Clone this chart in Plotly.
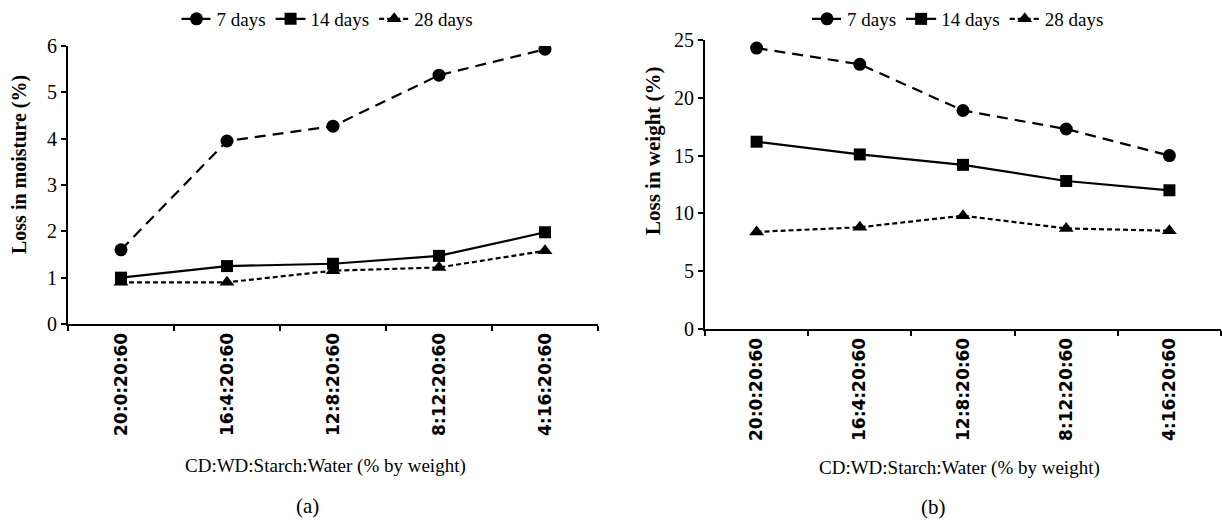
import plotly.graph_objects as go

categories = ["20:0:20:60", "16:4:20:60", "12:8:20:60", "8:12:20:60", "4:16:20:60"]
series_names = ["7 days", "14 days", "28 days"]

moisture_7 = [1.60, 3.95, 4.27, 5.37, 5.93]
moisture_14 = [1.00, 1.25, 1.30, 1.47, 1.98]
moisture_28 = [0.90, 0.90, 1.15, 1.22, 1.58]

weight_7 = [24.3, 22.9, 18.9, 17.3, 15.0]
weight_14 = [16.2, 15.1, 14.2, 12.8, 12.0]
weight_28 = [8.4, 8.8, 9.8, 8.7, 8.5]

y_ticks_moisture = [0, 1, 2, 3, 4, 5, 6]
y_ticks_weight = [0, 5, 10, 15, 20, 25]

styles = [
    dict(symbol="circle", dash="11px,7px", size=13),
    dict(symbol="square", dash="solid", size=12),
    dict(symbol="triangle-up", dash="5px,3px", size=13),
]

SERIF = "Liberation Serif"
SANS = "DejaVu Sans"

fig = go.Figure()

for panel, (data, xa, ya, leg) in enumerate([
    ((moisture_7, moisture_14, moisture_28), "x", "y", "legend"),
    ((weight_7, weight_14, weight_28), "x2", "y2", "legend2"),
]):
    for name, vals, st in zip(series_names, data, styles):
        fig.add_trace(go.Scatter(
            x=categories, y=vals, name=name, mode="lines+markers",
            xaxis=xa, yaxis=ya, legend=leg,
            line=dict(color="black", width=2.2, dash=st["dash"]),
            marker=dict(symbol=st["symbol"], size=st["size"], color="black"),
        ))

axis_common_x = dict(
    type="category", range=[-0.5, 4.5], showline=True, linecolor="black", linewidth=2,
    ticks="outside", tickson="boundaries", ticklen=5, tickwidth=1.5, tickcolor="black",
    tickangle=-90, tickfont=dict(family=SANS, size=17, color="black", weight="bold"),
    showgrid=False, zeroline=False, fixedrange=True, automargin=False,
)
axis_common_y = dict(
    showline=True, linecolor="black", linewidth=2, ticks="outside", ticklen=5,
    tickwidth=1.5, tickcolor="black", tickfont=dict(family=SERIF, size=20, color="black"),
    showgrid=False, zeroline=False, fixedrange=True, automargin=False,
)

fig.update_layout(
    width=1222, height=525,
    margin=dict(l=0, r=0, t=0, b=0, autoexpand=False),
    paper_bgcolor="white", plot_bgcolor="white",
    showlegend=True,
    xaxis=dict(axis_common_x, domain=[68/1222, 598/1222], anchor="y"),
    yaxis=dict(axis_common_y, domain=[(525-324)/525, (525-46)/525], anchor="x",
               range=[0, 6], tickvals=y_ticks_moisture),
    xaxis2=dict(axis_common_x, domain=[705/1222, 1221/1222], anchor="y2"),
    yaxis2=dict(axis_common_y, domain=[(525-329)/525, (525-40)/525], anchor="x2",
                range=[0, 25], tickvals=y_ticks_weight),
    legend=dict(orientation="h", x=0.268, y=1, xanchor="center", yanchor="top",
                font=dict(family=SERIF, size=19, color="black"), itemwidth=30,
                bgcolor="rgba(0,0,0,0)"),
    legend2=dict(orientation="h", x=0.784, y=1, xanchor="center", yanchor="top",
                 font=dict(family=SERIF, size=19, color="black"), itemwidth=30,
                 bgcolor="rgba(0,0,0,0)"),
)

annots = [
    dict(text="<b>Loss in moisture (%)</b>", x=19/1222, y=1 - 165/525, textangle=-90,
         font=dict(family=SERIF, size=20)),
    dict(text="<b>Loss in weight (%)</b>", x=653/1222, y=1 - 151/525, textangle=-90,
         font=dict(family=SERIF, size=21)),
    dict(text="CD:WD:Starch:Water (% by weight)", x=325/1222, y=1 - 466/525,
         font=dict(family=SERIF, size=19)),
    dict(text="CD:WD:Starch:Water (% by weight)", x=960/1222, y=1 - 468/525,
         font=dict(family=SERIF, size=19)),
    dict(text="(a)", x=307/1222, y=1 - 506/525, font=dict(family=SERIF, size=21)),
    dict(text="(b)", x=933/1222, y=1 - 507/525, font=dict(family=SERIF, size=21)),
]
for a in annots:
    a["font"]["color"] = "black"
    fig.add_annotation(xref="paper", yref="paper", showarrow=False,
                       xanchor="center", yanchor="middle", **a)

fig.write_html("out.html")
